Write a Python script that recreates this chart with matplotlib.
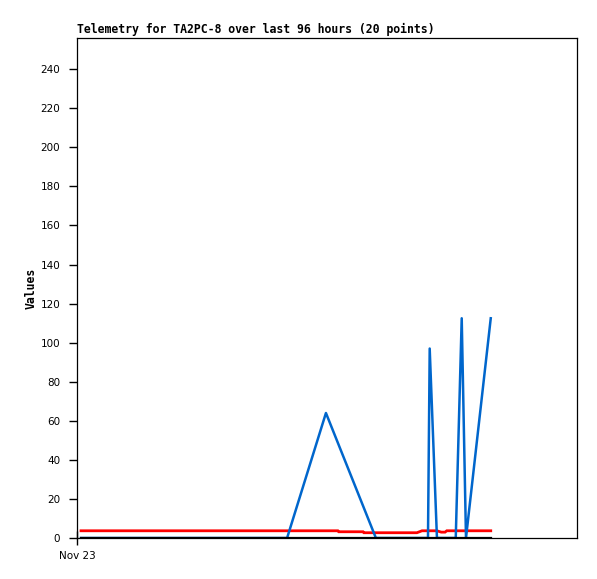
import matplotlib
matplotlib.use('Agg')
import matplotlib.pyplot as plt

# hours since Nov 23 00:00
blue_h = [0.94, 49.2, 58.3, 70.0, 82.2, 82.6, 84.3, 88.7, 90.1, 91.1, 96.9]
blue_v = [0, 0, 64, 0, 0, 97, 0, 0, 112.5, 0, 112.5]

red_h = [0.94, 61.1, 61.3, 67.0, 67.2, 79.6, 80.8, 84.3, 85.3, 86.2, 86.6, 96.9]
red_v = [3.7, 3.7, 3.2, 3.2, 2.7, 2.7, 3.7, 3.7, 3.0, 3.0, 3.7, 3.7]

black_h = [0.94, 96.9]
black_v = [0, 0]

yticks = list(range(0, 241, 20))

fig = plt.figure(figsize=(5.97, 5.79), dpi=100)
ax = fig.add_axes([0.129, 0.0708, 0.8375, 0.8636])

ax.plot(red_h, red_v, color='#ff0000', lw=2.0, solid_joinstyle='miter')
ax.plot(blue_h, blue_v, color='#0066cc', lw=1.8)
ax.plot(black_h, black_v, color='black', lw=1.6)

ax.set_xlim(0, 117.1)
ax.set_ylim(0, 256)
ax.set_yticks(yticks)
ax.set_xticks([0])
ax.set_xticklabels(['Nov 23'])
ax.tick_params(axis='y', direction='out', length=6, width=1, labelsize=7.5, pad=6)
ax.tick_params(axis='x', direction='inout', length=10, width=1, labelsize=7.5, pad=4)
for s in ax.spines.values():
    s.set_linewidth(0.9)

ax.set_ylabel('Values', fontfamily='DejaVu Sans Mono', fontweight='bold', fontsize=8.3, labelpad=2)
fig.text(0.129, 0.937, 'Telemetry for TA2PC-8 over last 96 hours (20 points)',
         fontfamily='DejaVu Sans Mono', fontweight='bold', fontsize=8.3, ha='left', va='bottom')

fig.savefig('out.png', dpi=100)
